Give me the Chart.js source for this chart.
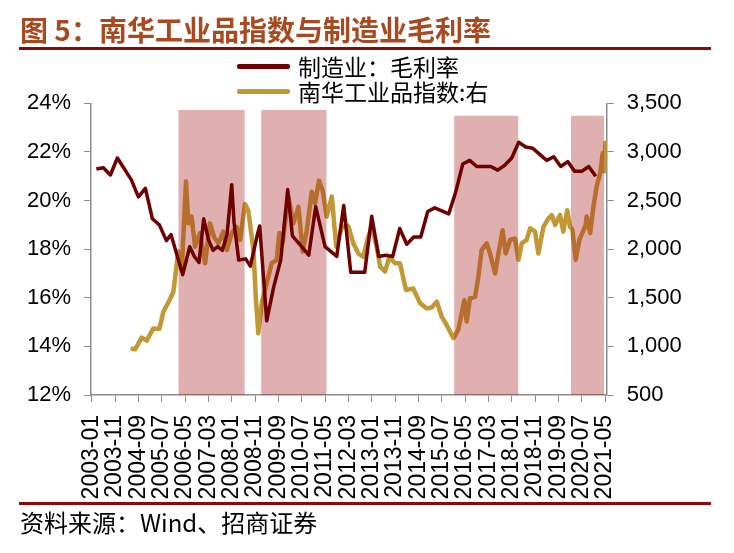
<!DOCTYPE html>
<html>
<head>
<meta charset="utf-8">
<script src="https://cdn.jsdelivr.net/npm/chart.js@4.4.0/dist/chart.umd.min.js"></script>
<style>
  html, body { margin: 0; padding: 0; background: #fff; }
  #wrap { position: relative; width: 734px; height: 553px; overflow: hidden; }
  #chart { position: absolute; left: 0; top: 0; }
  .title { position: absolute; left: 20px; top: 9px; font: bold 28px "Noto Sans CJK SC"; color: #A9491F; white-space: nowrap; }
  .rule { position: absolute; left: 19px; width: 692px; height: 3px; background: #8B0A0A; }
  .leg { position: absolute; left: 237px; height: 24px; display: flex; align-items: center; font: 23px "Noto Sans CJK SC"; color: #000; white-space: nowrap; }
  .leg i { display: block; width: 53px; height: 5px; margin-right: 8px; border-radius: 2px; }
  .src { position: absolute; left: 20px; top: 504px; font: 24px "Noto Sans CJK SC"; color: #000; white-space: nowrap; }
</style>
</head>
<body>
<div id="wrap">
  <canvas id="chart" width="734" height="553"></canvas>
  <div class="title">图 5：南华工业品指数与制造业毛利率</div>
  <div class="rule" style="top:47px"></div>
  <div class="leg" style="top:54px"><i style="background:#6E0000"></i><span>制造业：毛利率</span></div>
  <div class="leg" style="top:79px"><i style="background:#C19834"></i><span>南华工业品指数:右</span></div>
  <div class="rule" style="top:502px"></div>
  <div class="src">资料来源：Wind、招商证券</div>
</div>
<script>
/* ================= DATA ================= */
const xTickLabels = [
  "2003-01", "2003-11", "2004-09", "2005-07", "2006-05", "2007-03", "2008-01", "2008-11",
  "2009-09", "2010-07", "2011-05", "2012-03", "2013-01", "2013-11", "2014-09", "2015-07",
  "2016-05", "2017-03", "2018-01", "2018-11", "2019-09", "2020-07", "2021-05"
];
const leftTicks = [12, 14, 16, 18, 20, 22, 24];
const rightTicks = [500, 1000, 1500, 2000, 2500, 3000, 3500];

// 制造业：毛利率 (%)
const marginMonths = [
  "2003-03", "2003-06", "2003-09", "2003-12", "2004-06", "2004-09", "2004-12", "2005-03",
  "2005-06", "2005-09", "2005-11", "2006-02", "2006-04", "2006-07", "2006-09", "2006-11",
  "2007-01", "2007-03", "2007-05", "2007-07", "2007-09", "2007-11", "2008-01", "2008-02",
  "2008-04", "2008-07", "2008-09", "2008-12", "2009-01", "2009-04", "2009-07", "2009-10",
  "2010-01", "2010-03", "2010-07", "2010-10", "2011-01", "2011-05", "2011-10", "2012-01",
  "2012-04", "2012-10", "2013-01", "2013-04", "2013-07", "2013-10", "2014-01", "2014-04",
  "2014-07", "2014-10", "2015-01", "2015-04", "2015-10", "2016-01", "2016-04", "2016-07",
  "2016-10", "2017-04", "2017-07", "2017-10", "2018-01", "2018-04", "2018-07", "2018-10",
  "2019-01", "2019-04", "2019-07", "2019-10", "2020-01", "2020-04", "2020-07", "2020-10",
  "2021-01"
];
const marginValues = [
  21.3, 21.35, 21.05, 21.75, 20.85, 20.15, 20.5, 19.25,
  19.0, 18.35, 18.6, 17.6, 16.95, 18.1, 17.7, 17.45,
  19.25, 18.4, 17.95, 18.1, 17.95, 18.6, 20.65, 19.1,
  17.55, 17.6, 17.3, 18.6, 18.95, 15.05, 16.45, 17.55,
  20.45, 18.55, 18.1, 17.75, 19.75, 18.1, 17.7, 19.8,
  17.05, 17.05, 19.35, 17.7, 17.75, 17.7, 18.85, 18.2,
  18.5, 18.5, 19.55, 19.7, 19.45, 20.35, 21.5, 21.65,
  21.4, 21.4, 21.25, 21.45, 21.75, 22.4, 22.2, 22.15,
  21.9, 21.65, 21.8, 21.4, 21.6, 21.2, 21.2, 21.4,
  21.0
];

// 南华工业品指数 (right axis)
const nanhuaDates = [
  "2004-05-22", "2004-07-19", "2004-10-13", "2004-12-19", "2005-03-13", "2005-06-01", "2005-07-22", "2005-10-10",
  "2005-12-01", "2006-02-04", "2006-03-19", "2006-05-13", "2006-06-13", "2006-07-25", "2006-09-10", "2006-11-13",
  "2007-01-19", "2007-03-22", "2007-05-16", "2007-07-10", "2007-09-13", "2007-10-28", "2008-01-01", "2008-03-04",
  "2008-04-19", "2008-06-22", "2008-08-04", "2008-10-10", "2008-11-13", "2008-12-13", "2009-01-28", "2009-04-01",
  "2009-06-04", "2009-08-10", "2009-09-13", "2009-10-25", "2010-01-10", "2010-03-13", "2010-05-19", "2010-07-13",
  "2010-09-04", "2010-11-10", "2010-12-22", "2011-02-13", "2011-04-01", "2011-05-22", "2011-07-28", "2011-09-25",
  "2011-12-04", "2012-02-10", "2012-03-04", "2012-05-04", "2012-07-10", "2012-09-13", "2012-11-04", "2013-01-01",
  "2013-03-04", "2013-04-19", "2013-06-22", "2013-08-19", "2013-11-01", "2014-01-04", "2014-03-22", "2014-06-25",
  "2014-09-22", "2014-12-19", "2015-02-22", "2015-04-28", "2015-07-01", "2015-09-04", "2015-12-01", "2016-02-04",
  "2016-04-22", "2016-05-22", "2016-07-04", "2016-09-10", "2016-10-22", "2016-12-04", "2017-02-10", "2017-03-22",
  "2017-05-28", "2017-07-10", "2017-09-04", "2017-10-13", "2017-12-10", "2018-02-13", "2018-03-28", "2018-05-10",
  "2018-07-13", "2018-08-28", "2018-11-01", "2018-12-13", "2019-02-19", "2019-04-22", "2019-06-04", "2019-07-19",
  "2019-09-22", "2019-11-04", "2019-12-25", "2020-02-01", "2020-03-01", "2020-04-13", "2020-06-01", "2020-08-22",
  "2020-09-04", "2020-10-19", "2020-12-01", "2021-01-13", "2021-02-28", "2021-04-01", "2021-04-19", "2021-05-07"
];
const nanhuaValues = [
  980, 970, 1090, 1060, 1185, 1180, 1355, 1475,
  1560, 1975, 1785, 2695, 2265, 2335, 2025, 2165,
  1855, 2265, 2120, 2060, 2180, 1990, 2165, 2230,
  2095, 2465, 2400, 1990, 1475, 1135, 1445, 1650,
  1855, 1890, 2165, 2060, 2540, 2265, 2435, 1975,
  2180, 2590, 2470, 2705, 2600, 2335, 2540, 2025,
  2215, 2250, 2230, 2060, 1955, 1920, 2095, 2230,
  2025, 1820, 1770, 1920, 1855, 1855, 1580, 1595,
  1445, 1390, 1400, 1460, 1305, 1220, 1085, 1170,
  1475, 1255, 1495, 1510, 1715, 1990, 2060, 1955,
  1750, 1955, 2195, 1955, 2095, 2110, 1890, 2060,
  2095, 2215, 2180, 1955, 2230, 2315, 2350, 2250,
  2350, 2180, 2400, 2230, 2200, 1890, 2095, 2250,
  2335, 2165, 2435, 2645, 2780, 2985, 2800, 3115
];

// shaded periods
const shadeStarts = ["2006-02-04", "2009-01-19", "2015-12-10", "2020-02-13"];
const shadeEnds   = ["2008-06-19", "2011-05-22", "2018-03-28", "2021-04-19"];
const shadeTops   = [23.72, 23.72, 23.49, 23.49];

/* ================= HELPERS ================= */
// months since 2003-01 (day gives a fraction of the month)
function toMonth(s) {
  const [y, m, d] = s.split("-").map(Number);
  return (y - 2003) * 12 + (m - 1) + (d ? (d - 1) / 30 : 0);
}

const tickFont = { family: "Liberation Sans", size: 22 };
const axisGray = "#8C8C8C";

const shadeSets = shadeStarts.map((s, i) => ({
  type: "line",
  data: [{ x: toMonth(s), y: shadeTops[i] }, { x: toMonth(shadeEnds[i]), y: shadeTops[i] }],
  yAxisID: "y",
  fill: "start",
  backgroundColor: "rgba(166,29,29,0.35)",
  borderWidth: 0,
  pointRadius: 0,
  order: 1
}));

/* ================= CHART ================= */
new Chart(document.getElementById("chart"), {
  type: "line",
  data: {
    datasets: [
      {
        label: "制造业：毛利率",
        data: marginMonths.map((m, i) => ({ x: toMonth(m), y: marginValues[i] })),
        yAxisID: "y",
        borderColor: "#6E0000",
        borderWidth: 3.5,
        borderJoinStyle: "round",
        pointRadius: 0,
        tension: 0,
        order: 0
      },
      ...shadeSets,
      {
        label: "南华工业品指数:右",
        data: nanhuaDates.map((d, i) => ({ x: toMonth(d), y: nanhuaValues[i] })),
        yAxisID: "y2",
        borderColor: "#C19834",
        borderWidth: 4.5,
        borderJoinStyle: "round",
        pointRadius: 0,
        tension: 0,
        order: 2
      }
    ]
  },
  options: {
    responsive: false,
    animation: false,
    layout: { padding: { top: 103.3, left: 0, right: 0, bottom: 0 } },
    plugins: {
      legend: { display: false },
      tooltip: { enabled: false },
      filler: { drawTime: "beforeDatasetDraw" }
    },
    scales: {
      x: {
        type: "linear",
        min: -0.3,
        max: 220.7,
        afterBuildTicks: s => { s.ticks = xTickLabels.map(t => ({ value: toMonth(t) })); },
        afterFit: s => { s.height = 158; },
        ticks: {
          autoSkip: false,
          minRotation: 90,
          maxRotation: 90,
          padding: 13,
          color: "#000",
          font: { family: "Liberation Sans", size: 23 },
          callback: (v, i) => xTickLabels[i]
        },
        grid: { drawOnChartArea: false, tickLength: 7, color: axisGray },
        border: { color: axisGray, width: 1.5 }
      },
      y: {
        position: "left",
        min: leftTicks[0],
        max: leftTicks[leftTicks.length - 1],
        afterFit: s => { s.width = 91; },
        ticks: { stepSize: 2, padding: 13, color: "#000", font: tickFont, callback: v => v + "%" },
        grid: { drawOnChartArea: false, tickLength: 7, color: axisGray },
        border: { color: axisGray, width: 1.5 }
      },
      y2: {
        position: "right",
        min: rightTicks[0],
        max: rightTicks[rightTicks.length - 1],
        afterFit: s => { s.width = 127.3; },
        ticks: { stepSize: 500, padding: 13, color: "#000", font: tickFont, callback: v => v.toLocaleString("en-US") },
        grid: { drawOnChartArea: false, tickLength: 7, color: axisGray },
        border: { color: axisGray, width: 1.5 }
      }
    }
  }
});
</script>
</body>
</html>
